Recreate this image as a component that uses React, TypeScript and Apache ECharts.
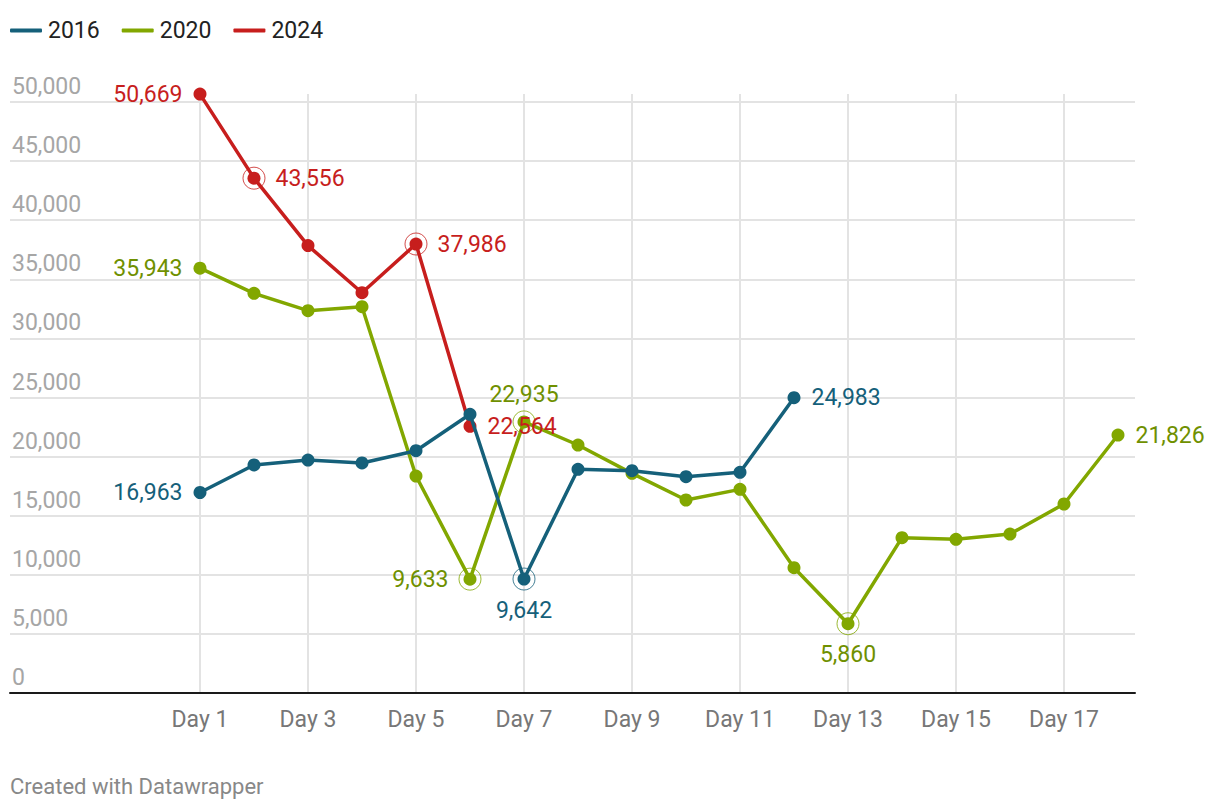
import React, { useEffect, useRef } from 'react';
import * as echarts from 'echarts';

// ---- data ----
const seriesNames = ['2016', '2020', '2024'];
const values2016 = [16963, 19290, 19710, 19460, 20500, 23578, 9642, 18925, 18810, 18300, 18670, 24983];
const values2020 = [35943, 33815, 32345, 32683, 18358, 9633, 22935, 20981, 18585, 16328, 17230, 10600, 5860, 13140, 13000, 13450, 15990, 21826];
const values2024 = [50669, 43556, 37850, 33866, 37986, 22564];
const xTickDays = [1, 3, 5, 7, 9, 11, 13, 15, 17];
const yTicks = [0, 5000, 10000, 15000, 20000, 25000, 30000, 35000, 40000, 45000, 50000];

const valuesByName: Record<string, number[]> = { '2016': values2016, '2020': values2020, '2024': values2024 };

// ---- annotation config (layout) ----
const labelPositions: Record<string, Record<number, string>> = {
  '2016': { 1: 'left', 7: 'bottom', 12: 'right' },
  '2020': { 1: 'left', 6: 'left', 7: 'top', 13: 'bottom', 18: 'right' },
  '2024': { 1: 'left', 2: 'right', 5: 'right', 6: 'right' },
};
const ringedDays: Record<string, number[]> = { '2016': [7], '2020': [6, 7, 13], '2024': [2, 5] };

const lineColors: Record<string, string> = { '2016': '#15607a', '2020': '#82a700', '2024': '#c71e1d' };
const labelColors: Record<string, string> = { '2016': '#15607a', '2020': '#6f9000', '2024': '#c71e1d' };
const zOrder: Record<string, number> = { '2016': 5, '2020': 3, '2024': 4 };

const FONT = 'Roboto, "Noto Sans", sans-serif';
const fmt = (v: number) => v.toLocaleString('en-US');

function labelDistance(name: string, day: number, pos: string) {
  const ringed = ringedDays[name].includes(day);
  if (pos === 'top') return 9;
  if (pos === 'bottom') return ringed ? 13 : 11;
  return ringed ? 15 : 11;
}

function buildOption() {
  const series: any[] = [];
  seriesNames.forEach((name) => {
    const vals = valuesByName[name];
    series.push({
      name,
      type: 'line',
      z: zOrder[name],
      clip: false,
      symbol: 'circle',
      symbolSize: 13,
      lineStyle: { width: 3.5, color: lineColors[name] },
      itemStyle: { color: lineColors[name] },
      data: vals.map((v, i) => {
        const day = i + 1;
        const pos = labelPositions[name][day];
        const item: any = { value: [day, v] };
        if (pos) {
          item.label = {
            show: true,
            position: pos,
            distance: labelDistance(name, day, pos),
            formatter: () => fmt(v),
            color: labelColors[name],
            fontSize: 23,
            fontFamily: FONT,
          };
        }
        return item;
      }),
      label: { show: false },
      emphasis: { disabled: true },
    });
    series.push({
      name: name + ' highlight',
      type: 'scatter',
      z: zOrder[name],
      clip: false,
      symbol: 'circle',
      symbolSize: 22,
      itemStyle: { color: 'rgba(255,255,255,0)', borderColor: lineColors[name], borderWidth: 1 },
      data: ringedDays[name].map((d) => [d, vals[d - 1]]),
      emphasis: { disabled: true },
      silent: true,
    });
  });

  return {
    animation: false,
    backgroundColor: '#ffffff',
    textStyle: { fontFamily: FONT },
    legend: {
      data: seriesNames.map((n) => ({ name: n, icon: 'roundRect', itemStyle: { color: lineColors[n] } })),
      left: 10,
      top: 19,
      padding: 0,
      itemWidth: 32,
      itemHeight: 4,
      itemGap: 22,
      selectedMode: false,
      textStyle: { fontSize: 23, color: '#222222', fontFamily: FONT, padding: [0, 0, 0, 1] },
    },
    grid: { left: 10, right: 85, top: 94, bottom: 119 },
    xAxis: {
      type: 'value',
      min: -2.5185,
      max: 18.3148,
      axisLine: { show: true, lineStyle: { color: '#1a1a1a', width: 2 } },
      axisTick: { show: false, customValues: xTickDays },
      axisLabel: {
        customValues: xTickDays,
        formatter: (v: number) => 'Day ' + v,
        color: '#777777',
        fontSize: 23,
        fontFamily: FONT,
        margin: 15,
      },
      splitLine: { show: true, lineStyle: { color: '#e3e3e3', width: 2 } },
    },
    yAxis: {
      type: 'value',
      min: 0,
      max: 50677,
      axisLine: { show: false },
      axisTick: { show: false, customValues: yTicks },
      axisLabel: {
        customValues: yTicks,
        inside: true,
        formatter: (v: number) => fmt(v),
        color: '#a6a6a6',
        fontSize: 23,
        fontFamily: FONT,
        verticalAlign: 'bottom',
        align: 'left',
        margin: 2,
        padding: [0, 0, 4, 0],
      },
      splitLine: { show: true, lineStyle: { color: '#e3e3e3', width: 2 } },
    },
    graphic: [
      {
        type: 'text',
        left: 10,
        top: 775,
        style: { text: 'Created with Datawrapper', fill: '#888888', fontSize: 22, fontFamily: FONT },
      },
    ],
    series,
  };
}

export default function App() {
  const ref = useRef<HTMLDivElement>(null);
  useEffect(() => {
    if (!ref.current) return;
    const chart = echarts.init(ref.current, undefined, { renderer: 'svg' });
    chart.setOption(buildOption() as any);
    return () => chart.dispose();
  }, []);
  return (
    <div
      ref={ref}
      style={{ position: 'fixed', left: 0, top: 0, width: 1220, height: 812, background: '#fff' }}
    />
  );
}
